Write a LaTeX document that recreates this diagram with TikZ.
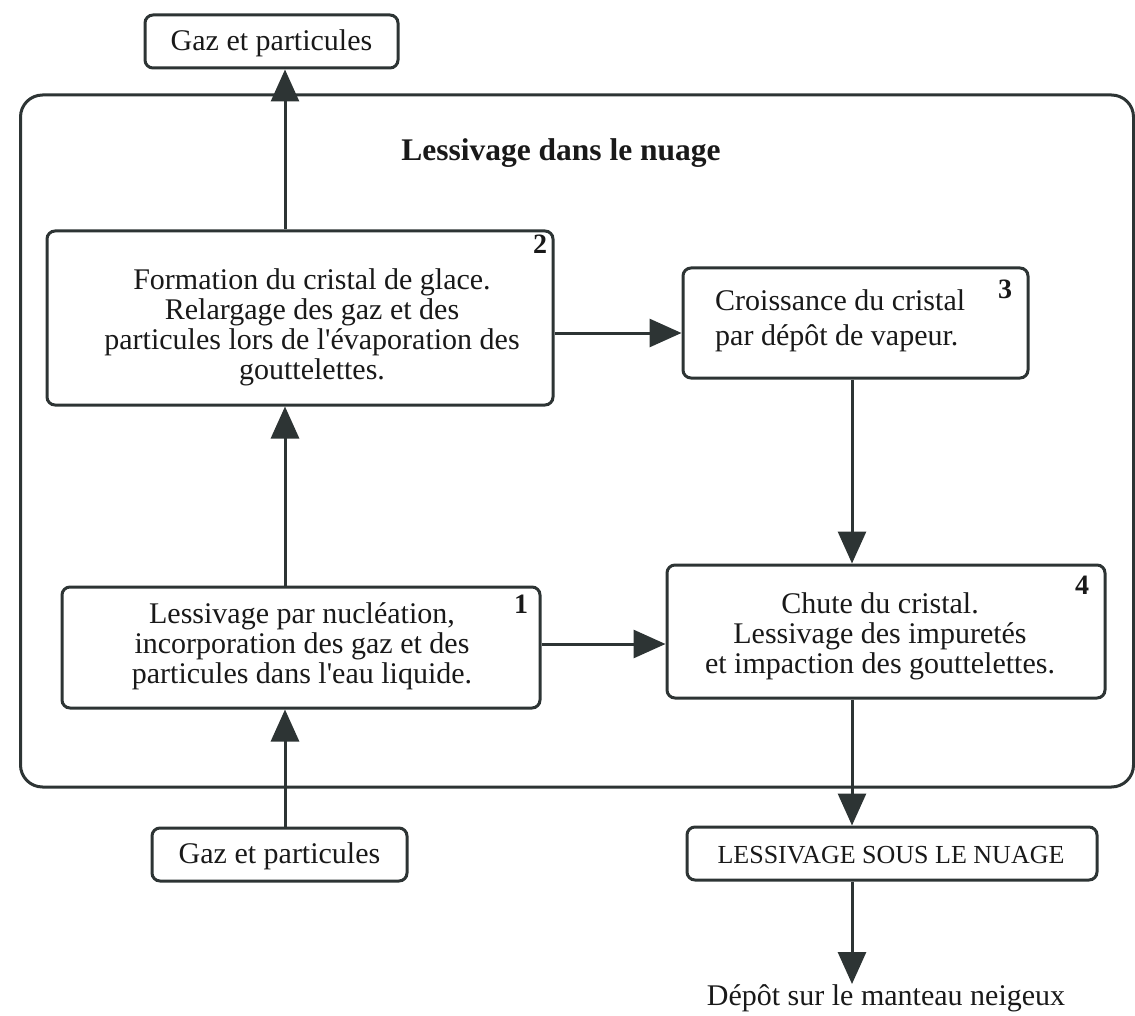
\documentclass[tikz,border=0pt]{standalone}
\usepackage{fontspec}
\setmainfont{Liberation Serif}
\usetikzlibrary{arrows.meta}
\definecolor{ink}{RGB}{45,52,52}
\definecolor{txt}{RGB}{25,25,25}
\newcommand{\apos}{\textquotesingle}
\begin{document}
\begin{tikzpicture}[x=1pt,y=-1pt,
  box/.style={draw=ink, line width=3pt, rounded corners=8pt, fill=white, inner sep=0pt},
  frame/.style={draw=ink, line width=3pt, rounded corners=22pt, inner sep=0pt},
  body/.style={text=txt, inner sep=0pt, align=center, font=\fontsize{30}{30}\selectfont},
  lbl/.style={text=txt, inner sep=0pt, font=\fontsize{30}{30}\selectfont},
  num/.style={text=txt, inner sep=0pt, font=\fontsize{28}{30}\selectfont\bfseries},
  arr/.style={draw=ink, line width=3pt, -{Triangle[length=32pt,width=28pt]}, fill=ink}
]
\useasboundingbox (0,0) rectangle (1135,1016);
% cloud frame
\node[frame, minimum width=1113pt, minimum height=692pt] (cloud) at (577,441) {};
\node[text=txt, inner sep=0pt, font=\fontsize{31.5}{34}\selectfont\bfseries] (title) at (561,153) {Lessivage dans le nuage};

% boxes
\node[box, minimum width=253pt, minimum height=53pt] (gtop) at (271.5,41.5) {};
\node[lbl] (gtopt) at (271.5,43) {Gaz et particules};

\node[box, minimum width=506pt, minimum height=174pt] (b2) at (300,318) {};
\node[body, align=center] (b2t) at (312,327) {Formation du cristal de glace.\\Relargage des gaz et des\\particules lors de l\apos évaporation des\\gouttelettes.};
\node[num] (n2) at (540,244) {2};

\node[box, minimum width=345pt, minimum height=110pt] (b3) at (855.5,323) {};
\node[body, align=left, anchor=west, font=\fontsize{30}{35}\selectfont] (b3t) at (715,321) {Croissance du cristal\\par dépôt de vapeur.};
\node[num] (n3) at (1005,289) {3};

\node[box, minimum width=478pt, minimum height=121pt] (b1) at (301,647.5) {};
\node[body] (b1t) at (302,646) {Lessivage par nucléation,\\incorporation des gaz et des\\particules dans l\apos eau liquide.};
\node[num] (n1) at (521,604) {1};

\node[box, minimum width=438pt, minimum height=133pt] (b4) at (886,631.5) {};
\node[body] (b4t) at (880,636) {Chute du cristal.\\Lessivage des impuretés\\et impaction des gouttelettes.};
\node[num] (n4) at (1082,585) {4};

\node[box, minimum width=255pt, minimum height=53pt] (gbot) at (279.5,854.5) {};
\node[lbl] (gbott) at (279.5,856) {Gaz et particules};

\node[box, minimum width=410pt, minimum height=53pt] (lsn) at (892,853.5) {};
\node[text=txt, inner sep=0pt, font=\fontsize{26}{28}\selectfont] (lsnt) at (891,855) {LESSIVAGE SOUS LE NUAGE};

\node[lbl, anchor=north] (depot) at (886,984) {Dépôt sur le manteau neigeux};

% connector guides
\coordinate (xl) at (285,0);
\coordinate (xr) at (852,0);
\coordinate (yA) at (0,333);
\coordinate (yB) at (0,644);

% connectors
\draw[arr] (b2.north -| xl) -- (gtop.south -| xl);
\draw[arr] (b1.north -| xl) -- (b2.south -| xl);
\draw[arr] (gbot.north -| xl) -- (b1.south -| xl);
\draw[arr] (b2.east |- yA) -- (b3.west |- yA);
\draw[arr] (b1.east |- yB) -- (b4.west |- yB);
\draw[arr] (b3.south -| xr) -- (b4.north -| xr);
\draw[arr] (b4.south -| xr) -- (lsn.north -| xr);
\draw[arr] (lsn.south -| xr) -- (depot.north -| xr);
\end{tikzpicture}
\end{document}
